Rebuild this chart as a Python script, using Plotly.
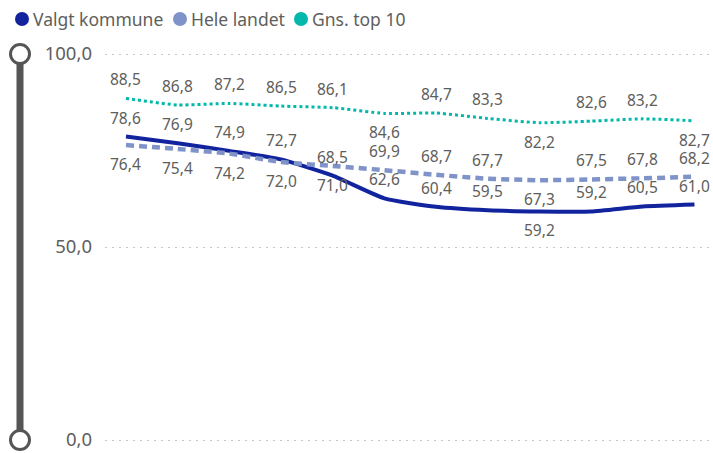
import plotly.graph_objects as go

# andel i procent, 12 perioder
perioder = list(range(12))
valgt_kommune = [78.6, 76.9, 74.9, 72.7, 68.5, 62.6, 60.4, 59.5, 59.2, 59.2, 60.5, 61.0]
hele_landet = [76.4, 75.4, 74.2, 72.0, 71.0, 69.9, 68.7, 67.7, 67.3, 67.5, 67.8, 68.2]
gns_top10 = [88.5, 86.8, 87.2, 86.5, 86.1, 84.6, 84.7, 83.3, 82.2, 82.6, 83.2, 82.7]
serie_navne = ["Valgt kommune", "Hele landet", "Gns. top 10"]
y_ticks = [0, 50, 100]

# label placement (1 = over, -1 = under), like the Power BI layout
pos_valgt = [1, 1, 1, 1, 1, 1, 1, 1, -1, 1, 1, 1]
pos_hele = [-1, -1, -1, -1, -1, 1, 1, 1, -1, 1, 1, 1]
pos_top10 = [1, 1, 1, 1, 1, -1, 1, 1, -1, 1, 1, -1]

FONT = "Noto Sans"
TXT = "#605E5C"
GREY = "#555555"
ML, MT = 105, 51          # plot area offset in px (value 100 sits 3px lower)
PAD = 3                   # px between plot edge and the 0 / 100 lines
AXIS_PX = 386             # px from 0 to 100
legend_px = [22, 180, 301]  # legend dot centres (px from left)
LEG_Y = 19

series = [
    (valgt_kommune, "#12239E", "solid", 4, pos_valgt),
    (hele_landet, "#7F93C9", "8px,5px", 4.5, pos_hele),
    (gns_top10, "#01B8AA", "dot", 3, pos_top10),
]

fig = go.Figure()
annotations = []
shapes = []
for name, (vals, col, dash, w, pos), lx in zip(serie_navne, series, legend_px):
    fig.add_trace(go.Scatter(x=perioder, y=vals, mode="lines", name=name,
                             line=dict(color=col, width=w, dash=dash, shape="spline", smoothing=0.5),
                             hoverinfo="skip"))
    for x, v, p in zip(perioder, vals, pos):
        annotations.append(dict(x=x, y=v, text=f"{v:.1f}".replace(".", ","),
                                showarrow=False, yshift=19 * p,
                                font=dict(family=FONT, size=15.5, color=TXT)))
    # legend: dot + text
    shapes.append(dict(type="circle", xref="paper", yref="paper", xsizemode="pixel", ysizemode="pixel",
                       xanchor=0, yanchor=1, x0=lx - ML - 7, x1=lx - ML + 7,
                       y0=MT - LEG_Y - 7, y1=MT - LEG_Y + 7, fillcolor=col, line=dict(width=0)))
    annotations.append(dict(xref="paper", yref="paper", x=0, y=1, xanchor="left", yanchor="middle",
                            xshift=lx - ML + 9, yshift=MT - LEG_Y, text=name, showarrow=False,
                            font=dict(family=FONT, size=17.5, color=TXT)))

# slider-like bar at the left of the value axis, spanning 0..100
SX = -85  # px relative to plot left
shapes.append(dict(type="line", xref="paper", yref="paper", xsizemode="pixel", ysizemode="pixel",
                   xanchor=0, yanchor=0, x0=SX, x1=SX, y0=PAD, y1=PAD + AXIS_PX,
                   line=dict(color=GREY, width=7)))
for cy in (PAD, PAD + AXIS_PX):
    shapes.append(dict(type="circle", xref="paper", yref="paper", xsizemode="pixel", ysizemode="pixel",
                       xanchor=0, yanchor=0, x0=SX - 9.5, x1=SX + 9.5, y0=cy - 9.5, y1=cy + 9.5,
                       fillcolor="white", line=dict(color=GREY, width=3)))

fig.update_layout(
    width=713, height=453,
    margin=dict(l=ML, r=1, t=MT, b=10, autoexpand=False),
    paper_bgcolor="white", plot_bgcolor="white",
    separators=",.",
    font=dict(family=FONT, color=TXT),
    showlegend=False,
    annotations=annotations,
    shapes=shapes,
)
fig.update_xaxes(range=[-0.406, 11.339], visible=False, showgrid=False, zeroline=False)
# range padded a little so the 0 and 100 gridlines are drawn
fig.update_yaxes(range=[-0.777, 100.777], tickvals=y_ticks, tickformat=".1f",
                 showgrid=True, gridcolor="#C8C6C4", gridwidth=1, griddash="2px,5px",
                 zeroline=False, showline=False, ticks="", ticklabelstandoff=12,
                 tickfont=dict(size=18.5, color=TXT))

# drop the default page margin so the figure sits at the window corner
fig.write_html("out.html", config={"displayModeBar": False},
               post_script="document.body.style.margin='0';")
